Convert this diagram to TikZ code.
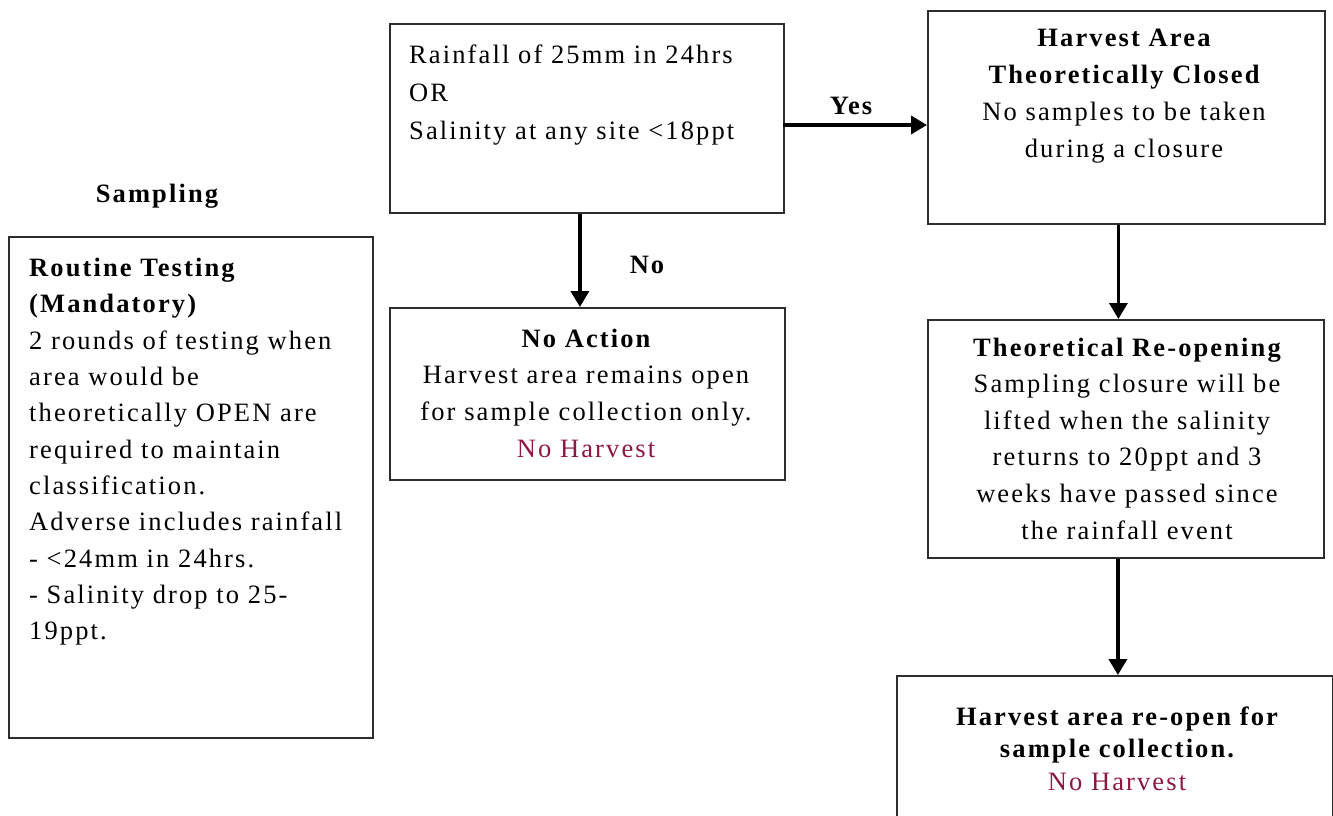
\documentclass[tikz,border=0pt]{standalone}
\usepackage{fontspec}
\setmainfont{Liberation Serif}[LetterSpace=8]
\usetikzlibrary{arrows.meta}
\definecolor{harvred}{RGB}{140,25,65}
\definecolor{edge}{RGB}{45,45,45}
\tikzset{
  box/.style={draw=edge, line width=1.8pt, inner sep=0pt, anchor=north west},
  body/.style={inner sep=0pt, font=\fontsize{26.5}{36.7}\selectfont},
  lbl/.style={inner sep=0pt, font=\fontsize{26.5}{32}\selectfont\bfseries},
  flow/.style={line width=3.5pt, -{Triangle[length=16pt,width=18pt]}},
}
\begin{document}
\begin{tikzpicture}[x=1pt,y=-1pt]
\clip (0,0) rectangle (1333,815);
\fill[white] (0,0) rectangle (1333,815);
% boxes
\node[box, minimum width=394pt, minimum height=189pt] (cond) at (389,23) {};
\node[box, minimum width=397pt, minimum height=213pt] (hc) at (927,10) {};
\node[box, minimum width=364pt, minimum height=501pt] (rt) at (8,236) {};
\node[box, minimum width=395pt, minimum height=172pt] (na) at (389,307) {};
\node[box, minimum width=396pt, minimum height=238pt] (ro) at (927,319) {};
\node[box, minimum width=436pt, minimum height=170pt] (hr) at (896,675) {};
% texts
\node[body, font=\fontsize{26.5}{38}\selectfont, anchor=north west, align=left] (condt) at (409,44.5)
  {Rainfall of 25mm in 24hrs\\OR\\Salinity at any site <18ppt};
\node[body, font=\fontsize{26.5}{37}\selectfont, anchor=north, align=center] (hct) at (1124,28.5)
  {\bfseries Harvest Area\\\bfseries Theoretically Closed\\No samples to be taken\\during a closure};
\node[body, font=\fontsize{26.5}{36.3}\selectfont, anchor=north west, align=left] (rtt) at (29,258)
  {\bfseries Routine Testing\\\bfseries (Mandatory)\\2 rounds of testing when\\area would be\\theoretically OPEN are\\required to maintain\\classification.\\Adverse includes rainfall\\- <24mm in 24hrs.\\- Salinity drop to 25-\\19ppt.};
\node[body, anchor=north, align=center] (nat) at (586,328.5)
  {\bfseries No Action\\Harvest area remains open\\for sample collection only.\\\textcolor{harvred}{No Harvest}};
\node[body, font=\fontsize{26.5}{36.6}\selectfont, anchor=north, align=center] (rot) at (1127,337.5)
  {\bfseries Theoretical Re-opening\\Sampling closure will be\\lifted when the salinity\\returns to 20ppt and 3\\weeks have passed since\\the rainfall event};
\node[body, font=\fontsize{26.5}{32.5}\selectfont, anchor=north, align=center] (hrt) at (1117,706.5)
  {\bfseries Harvest area re-open for\\\bfseries sample collection.\\\textcolor{harvred}{No Harvest}};
% labels
\node[lbl] (samp) at (157,196) {Sampling};
\node[lbl] (yes) at (851,106) {Yes};
\node[lbl] (no) at (647,265) {No};
% connectors
\coordinate (yesstart) at (783,125);
\draw[flow] (yesstart) -- (yesstart -| hc.west);
\draw[flow] ([xshift=-7pt]cond.south) -- ([xshift=-7pt]cond.south |- na.north);
\draw[flow] ([xshift=-8pt]hc.south) -- ([xshift=-8pt]hc.south |- ro.north);
\draw[flow] ([xshift=-8pt]ro.south) -- ([xshift=-8pt]ro.south |- hr.north);
\end{tikzpicture}
\end{document}
